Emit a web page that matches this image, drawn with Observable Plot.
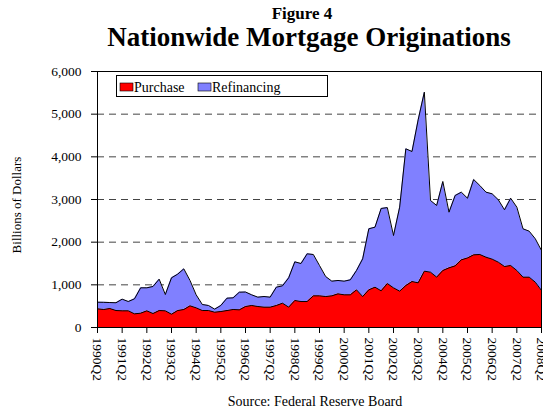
<!DOCTYPE html>
<html><head><meta charset="utf-8">
<script src="https://cdn.jsdelivr.net/npm/d3@7"></script>
<script src="https://cdn.jsdelivr.net/npm/@observablehq/plot@0.6"></script>
<style>
body{margin:0;background:#fff}
#chart{position:relative;width:543px;height:412px}
</style>
</head><body><div id="chart"></div>
<script>
const seriesNames = ["Purchase", "Refinancing"];
const seriesColors = ["#FF0000", "#8080FF"];
const quarters = [];
for (let yr = 1990; yr <= 2008; yr++) for (let q = 1; q <= 4; q++) {
  if (yr === 1990 && q < 2) continue;
  if (yr === 2008 && q > 2) continue;
  quarters.push(yr + "Q" + q);
}
const tickLabels = ["1990Q2","1991Q2","1992Q2","1993Q2","1994Q2","1995Q2","1996Q2","1997Q2","1998Q2","1999Q2","2000Q2","2001Q2","2002Q2","2003Q2","2004Q2","2005Q2","2006Q2","2007Q2","2008Q2"];
const purchase = [438,422,445,398,391,391,320,336,391,328,398,391,312,398,422,508,461,398,398,359,375,398,422,414,492,516,492,477,477,516,570,477,633,609,609,742,742,726,742,789,766,766,883,726,883,945,860,1030,930,852,984,1078,1047,1320,1297,1180,1336,1398,1445,1586,1630,1703,1711,1648,1602,1531,1430,1453,1336,1180,1180,1062,867];
const refinancing = [155,168,140,182,273,218,352,594,539,633,735,382,852,852,953,594,305,141,118,71,141,290,273,414,340,250,219,249,234,429,406,687,906,891,1118,969,711,469,344,313,320,351,453,883,1430,1407,1930,1780,1226,1969,3204,3047,3820,4196,1680,1680,2086,1305,1649,1586,1400,1766,1617,1524,1531,1462,1328,1578,1485,1133,1078,1016,938];
const yTicks = [0,1000,2000,3000,4000,5000,6000];
const gridTicks = [1000,2000,3000,4000,5000];

const data = [];
seriesNames.forEach((s, k) => {
  const vals = k === 0 ? purchase : refinancing;
  quarters.forEach((q, i) => data.push({qi: i, quarter: q, series: s, value: vals[i]}));
});
const xTicks = tickLabels.map(l => quarters.indexOf(l));

const serif = "'Liberation Serif','Times New Roman',serif";
const plot = Plot.plot({
  width: 543, height: 412,
  marginLeft: 97, marginRight: 2, marginTop: 71, marginBottom: 85,
  style: {fontFamily: serif, fontSize: "13.5px", color: "#000", background: "#fff", overflow: "visible"},
  x: {type: "linear", domain: [0, quarters.length - 1], ticks: xTicks, tickFormat: i => quarters[i], tickRotate: 90, tickSize: 6, tickPadding: 4, label: null},
  y: {domain: [0, 6000], ticks: yTicks, tickFormat: d3.format(","), tickSize: 6, tickPadding: 10, label: null},
  color: {domain: seriesNames, range: seriesColors},
  marks: [
    Plot.ruleY(gridTicks, {stroke: "#444", strokeDasharray: "7,5"}),
    Plot.areaY(data, {x: "qi", y: "value", fill: "series", z: "series"}),
    Plot.lineY(data, Plot.stackY2({x: "qi", y: "value", z: "series", stroke: "#000", strokeWidth: 1})),
    Plot.frame({stroke: "#000"})
  ]
});
document.getElementById("chart").appendChild(plot);

const svg = d3.select(plot);
const color = plot.scale("color");
svg.append("text").attr("x", 302).attr("y", 18.5).attr("text-anchor", "middle")
  .style("font-family", serif).style("font-weight", "bold").style("font-size", "17px").text("Figure 4");
svg.append("text").attr("x", 309).attr("y", 46).attr("text-anchor", "middle")
  .style("font-family", serif).style("font-weight", "bold").style("font-size", "27px").text("Nationwide Mortgage Originations");
svg.append("text").attr("transform", "translate(21,205) rotate(-90)").attr("text-anchor", "middle")
  .style("font-family", serif).style("font-size", "13px").text("Billions of Dollars");
svg.append("text").attr("x", 315).attr("y", 406).attr("text-anchor", "middle")
  .style("font-family", serif).style("font-size", "14px").text("Source: Federal Reserve Board");

const lg = svg.append("g").attr("text-anchor", "start");
lg.append("rect").attr("x", 116.5).attr("y", 75.5).attr("width", 211).attr("height", 21)
  .attr("fill", "#fff").attr("stroke", "#000");
const lx = [120, 198];
seriesNames.forEach((s, k) => {
  lg.append("rect").attr("x", lx[k]).attr("y", 83).attr("width", 13).attr("height", 8)
    .attr("fill", color.apply(s)).attr("stroke", "#000").attr("stroke-width", 0.6);
  lg.append("text").attr("x", lx[k] + 14).attr("y", 91.5).attr("text-anchor", "start")
    .style("font-family", serif).style("font-size", "14px").text(s);
});
</script>
</body></html>
